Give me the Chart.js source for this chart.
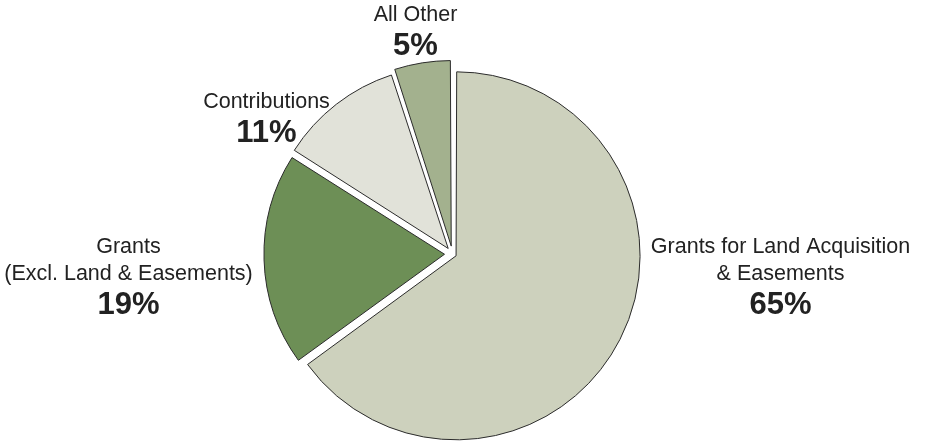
<!DOCTYPE html>
<html>
<head>
<meta charset="utf-8">
<script src="https://cdn.jsdelivr.net/npm/chart.js@4"></script>
<style>
html,body{margin:0;padding:0;background:#fff;}
#wrap{position:relative;width:929px;height:443px;}
</style>
</head>
<body>
<div id="wrap"><canvas id="c" width="929" height="443"></canvas></div>
<script>
const categories = ["Grants for Land Acquisition & Easements", "Grants (Excl. Land & Easements)", "Contributions", "All Other"];
const labelLines = [["Grants for Land Acquisition", "& Easements"], ["Grants", "(Excl. Land & Easements)"], ["Contributions"], ["All Other"]];
const values = [65, 19, 11, 5];
const pctLabels = ["65%", "19%", "11%", "5%"];
const colors = ["#cdd1bd", "#6d8f56", "#e1e2d9", "#a3b18e"];
// Chart.js v4 translates an arc by offset/4 pixels
const offsets = [16, 32, 28, 32];

// label anchor relative to pie centre (layout only)
const labelAnchors = [[328, -7], [-324, -7], [-186, -152], [-37, -239]];

const labelPlugin = {
  id: 'pieLabels',
  afterDraw(chart) {
    const ctx = chart.ctx;
    const meta = chart.getDatasetMeta(0);
    ctx.save();
    ctx.fillStyle = '#222';
    ctx.textAlign = 'center';
    ctx.textBaseline = 'middle';
    meta.data.forEach((arc, i) => {
      const cx = arc.x, cy = arc.y;
      const [dx, dy] = labelAnchors[i];
      const x = cx + dx, y = cy + dy;
      ctx.font = '21.5px "Liberation Sans", Arial, sans-serif';
      const lines = labelLines[i];
      lines.forEach((t, j) => ctx.fillText(t, x, y + j * 27));
      ctx.font = 'bold 31px "Liberation Sans", Arial, sans-serif';
      ctx.fillText(pctLabels[i], x, y + (lines.length - 1) * 27 + 31);
    });
    ctx.restore();
  }
};

new Chart(document.getElementById('c'), {
  type: 'pie',
  data: {
    labels: categories,
    datasets: [{
      data: values,
      backgroundColor: colors,
      borderColor: '#2b2b2b',
      borderWidth: 1,
      offset: offsets,
      hoverOffset: 0
    }]
  },
  options: {
    responsive: false,
    animation: false,
    radius: 180,
    layout: { padding: { top: 65, bottom: 0, left: 0, right: 24 } },
    plugins: { legend: { display: false }, tooltip: { enabled: false } }
  },
  plugins: [labelPlugin]
});
</script>
</body>
</html>
